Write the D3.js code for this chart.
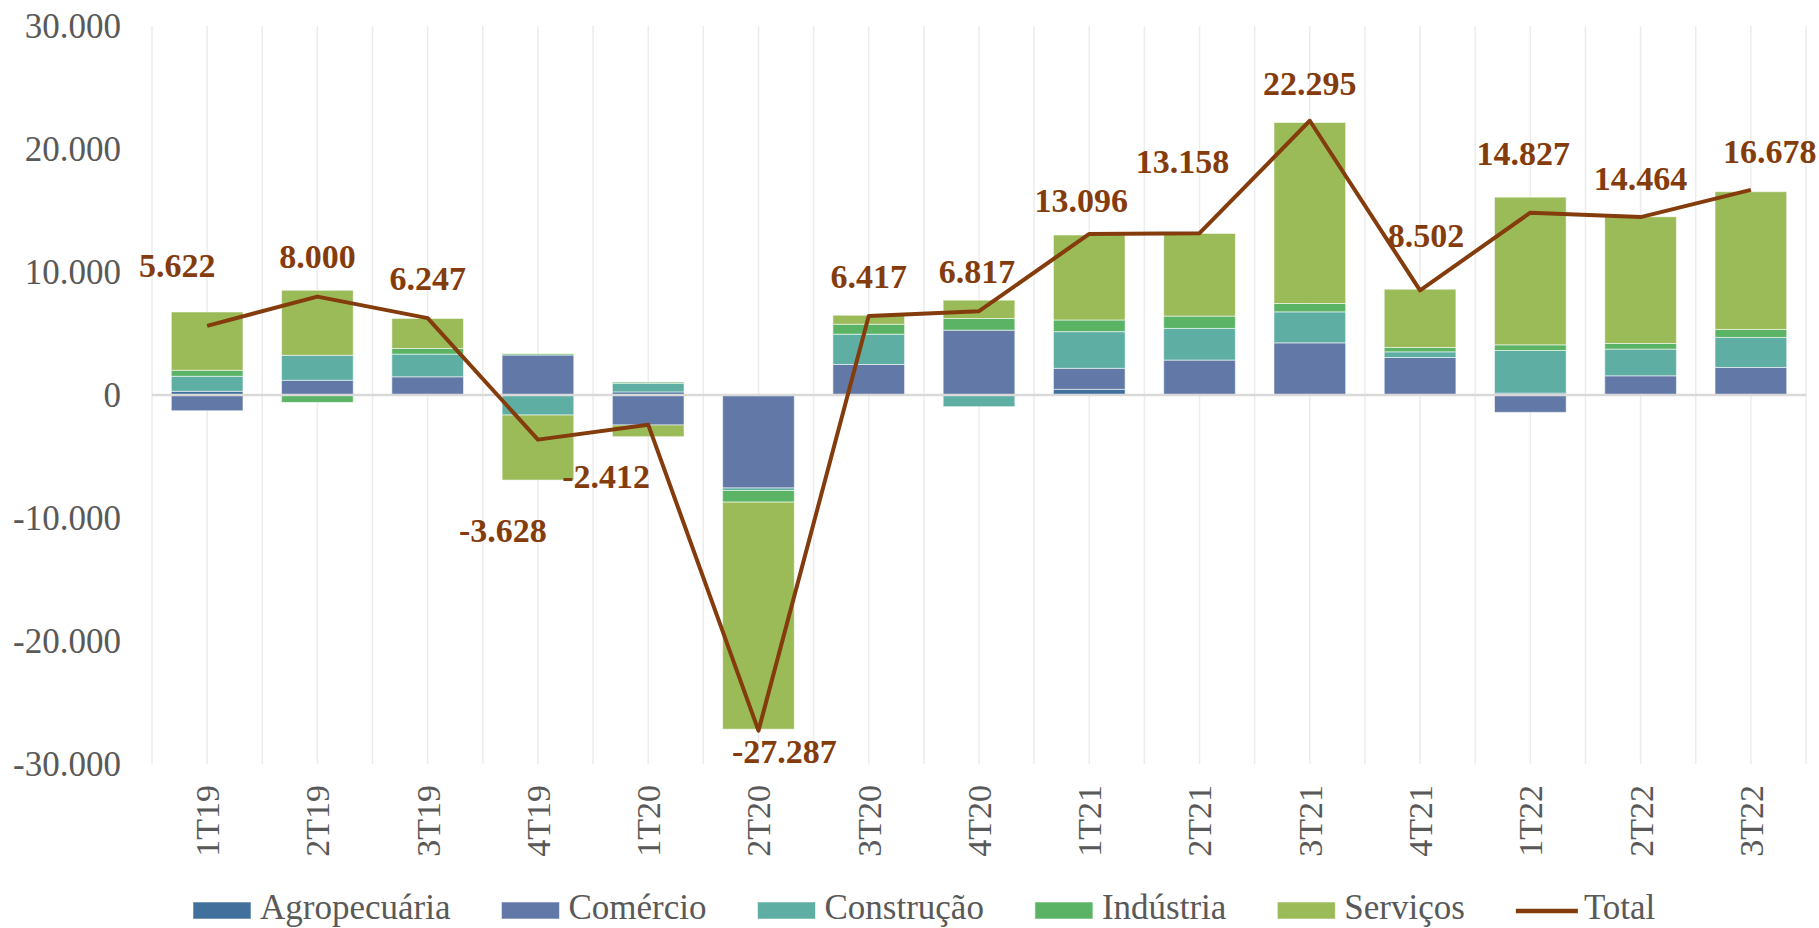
<!DOCTYPE html>
<html>
<head>
<meta charset="utf-8">
<script src="https://cdn.jsdelivr.net/npm/d3@7"></script>
<style>
  html, body { margin: 0; padding: 0; background: #fff; }
  svg { display: block; }
</style>
</head>
<body>
<svg id="chart" width="1819" height="928"></svg>
<script>
// ---------------- DATA ----------------
const categories = ["1T19","2T19","3T19","4T19","1T20","2T20","3T20","4T20","1T21","2T21","3T21","4T21","1T22","2T22","3T22"];
const seriesNames = ["Agropecuária","Comércio","Construção","Indústria","Serviços"];
const agropecuaria = [300, 0, 0, 0, 250, 0, 0, 0, 460, 0, 0, 0, 150, 0, 0];
const comercio     = [-1280, 1200, 1480, 3250, -2440, -7560, 2480, 5270, 1710, 2840, 4240, 3050, -1410, 1560, 2240];
const construcao   = [1220, 2030, 1845, -1630, 700, -200, 2465, -950, 2980, 2575, 2520, 460, 3470, 2170, 2440];
const industria    = [490, -600, 460, 100, 100, -950, 810, 950, 950, 1000, 680, 350, 460, 460, 650];
const servicos     = [4740, 5285, 2440, -5285, -950, -18460, 730, 1490, 6910, 6720, 14715, 4740, 12005, 10300, 11200];
const total        = [5622, 8000, 6247, -3628, -2412, -27287, 6417, 6817, 13096, 13158, 22295, 8502, 14827, 14464, 16678];
const yTicks = [30000, 20000, 10000, 0, -10000, -20000, -30000];

// ---------------- LAYOUT / STYLE ----------------
const colors = ["#41709c", "#6279a8", "#5eaea4", "#5bb465", "#9bbb59"];
const lineColor = "#843c0c";
const textGray = "#595959";
const fontFamily = "'Liberation Serif', 'Times New Roman', serif";
const plot = { left: 152, right: 1806, top: 26, bottom: 764 };
// manual data label offsets (px) relative to each point: [dx, dy of baseline]
const labelOffsets = [[-30,-49],[0,-29],[0,-28],[-35,102],[-42,63],[26,32],[0,-28],[-2,-28],[-8,-22],[-17,-60],[0,-26],[6,-43],[-7,-48],[0,-27],[19,-27]];

const locale = d3.formatLocale({decimal: ",", thousands: ".", grouping: [3], currency: ["R$", ""], minus: "-"});
const fmt = locale.format(",d");

const svg = d3.select("#chart");
svg.append("rect").attr("width", 1819).attr("height", 928).attr("fill", "#fff");

const x = d3.scaleBand().domain(categories).range([plot.left, plot.right]).paddingInner(0.35).paddingOuter(0.175);
const xc = d => x(d) + x.bandwidth() / 2;
const step = x.step();
const y = d3.scaleLinear().domain([-30000, 30000]).range([plot.bottom, plot.top]);

// vertical gridlines at boundaries and centers
const gridXs = [];
for (let i = 0; i <= categories.length * 2; i++) gridXs.push(plot.left + i * step / 2);
svg.append("g").selectAll("line").data(gridXs).join("line")
  .attr("x1", d => d).attr("x2", d => d)
  .attr("y1", plot.top).attr("y2", plot.bottom)
  .attr("stroke", "#ececec").attr("stroke-width", 1.5);

// stacked bars
const rows = categories.map((c, i) => ({
  cat: c,
  "Agropecuária": agropecuaria[i],
  "Comércio": comercio[i],
  "Construção": construcao[i],
  "Indústria": industria[i],
  "Serviços": servicos[i]
}));
const stack = d3.stack().keys(seriesNames).offset(d3.stackOffsetDiverging);
const stacked = stack(rows);

svg.append("g").selectAll("g").data(stacked).join("g")
  .attr("fill", (d, i) => colors[i])
  .selectAll("rect").data(d => d.filter(p => p[1] !== p[0])).join("rect")
  .attr("x", d => x(d.data.cat))
  .attr("width", x.bandwidth())
  .attr("y", d => y(Math.max(d[0], d[1])))
  .attr("height", d => Math.abs(y(d[0]) - y(d[1])))
  .attr("stroke", "#ffffff").attr("stroke-opacity", 0.55).attr("stroke-width", 1);

// zero axis line
svg.append("line")
  .attr("x1", plot.left).attr("x2", plot.right)
  .attr("y1", y(0)).attr("y2", y(0))
  .attr("stroke", "#d9d9d9").attr("stroke-width", 2.5);

// y axis labels
const yAxis = d3.axisLeft(y).tickValues(yTicks).tickFormat(fmt).tickSize(0).tickPadding(0);
const gy = svg.append("g").attr("transform", `translate(121,0)`).call(yAxis);
gy.select(".domain").remove();
gy.selectAll("text")
  .attr("font-family", fontFamily).attr("font-size", 35).attr("fill", textGray)
  .attr("dy", "0.33em");

// x axis labels (rotated)
const xAxis = d3.axisBottom(x).tickSize(0).tickPadding(0);
const gx = svg.append("g").attr("transform", `translate(0,${plot.bottom})`).call(xAxis);
gx.select(".domain").remove();
gx.selectAll("text")
  .attr("font-family", fontFamily).attr("font-size", 34).attr("fill", textGray)
  .attr("text-anchor", "end")
  .attr("transform", "translate(0,21) rotate(-90)")
  .attr("x", 0).attr("y", 0).attr("dy", "0.35em");

// total line
const line = d3.line().x((d, i) => xc(categories[i])).y(d => y(d));
svg.append("path").datum(total)
  .attr("d", line)
  .attr("fill", "none").attr("stroke", lineColor).attr("stroke-width", 4)
  .attr("stroke-linejoin", "round");

// data labels
svg.append("g").selectAll("text").data(total).join("text")
  .attr("x", (d, i) => xc(categories[i]) + labelOffsets[i][0])
  .attr("y", (d, i) => y(d) + labelOffsets[i][1])
  .attr("text-anchor", "middle")
  .attr("font-family", fontFamily).attr("font-size", 34).attr("font-weight", "bold")
  .attr("fill", lineColor)
  .text(d => fmt(d));

// legend
const legendItems = seriesNames.map((n, i) => ({name: n, color: colors[i], type: "rect"}))
  .concat([{name: "Total", color: lineColor, type: "line"}]);
const lg = svg.append("g");
let lx = 193;
legendItems.forEach(item => {
  const g = lg.append("g");
  if (item.type === "rect") {
    g.append("rect").attr("x", lx).attr("y", 902).attr("width", 58).attr("height", 17)
      .attr("fill", item.color).attr("stroke", "#ffffff").attr("stroke-opacity", 0.55);
  } else {
    g.append("line").attr("x1", lx).attr("x2", lx + 62).attr("y1", 911).attr("y2", 911)
      .attr("stroke", item.color).attr("stroke-width", 4.5);
  }
  const tx = lx + (item.type === "rect" ? 67 : 68);
  const t = g.append("text").attr("x", tx).attr("y", 919)
    .attr("font-family", fontFamily).attr("font-size", 35).attr("fill", textGray)
    .text(item.name);
  lx = tx + t.node().getComputedTextLength() + 51;
});
</script>
</body>
</html>
